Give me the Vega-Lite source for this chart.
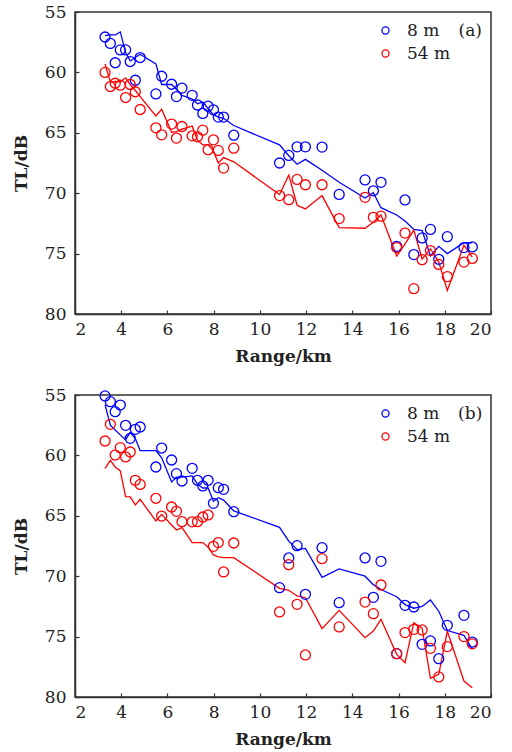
{
  "$schema": "https://vega.github.io/schema/vega-lite/v6.json",
  "padding": {"left": 11, "top": 2, "right": 5, "bottom": 5},
  "config": {
    "font": "DejaVu Serif",
    "view": {"stroke": "#333", "strokeWidth": 1.5},
    "axis": {"grid": false, "domainColor": "#333", "domainWidth": 1.5, "tickColor": "#333", "tickWidth": 1.2, "tickSize": -4, "labelFontSize": 17, "labelColor": "#222", "titleFontSize": 17, "titleFontWeight": "bold", "titleColor": "#222", "labelFont": "DejaVu Serif", "titleFont": "DejaVu Serif"},
    "axisX": {"labelPadding": 11, "titlePadding": 11},
    "axisY": {"labelPadding": 13, "titlePadding": 14},
    "legend": {"orient": "none", "legendX": 302, "legendY": 10, "padding": 0, "symbolSize": 50, "symbolStrokeWidth": 1.3, "labelFontSize": 17, "labelFont": "DejaVu Serif", "labelColor": "#222", "labelOffset": 13, "rowPadding": 5, "title": null, "symbolType": "circle"}
  },
  "datasets": {
    "a": [
      {"r": 3.30, "bm": 57.07, "rm": 60.0, "bc": 56.95, "rc": 59.3},
      {"r": 3.53, "bm": 57.6, "rm": 61.17, "bc": 56.9, "rc": 60.8},
      {"r": 3.74, "bm": 59.2, "rm": 60.9, "bc": 56.9, "rc": 60.75},
      {"r": 3.96, "bm": 58.14, "rm": 61.06, "bc": 56.65, "rc": 60.8},
      {"r": 4.19, "bm": 58.14, "rm": 62.08, "bc": 58.36, "rc": 60.45},
      {"r": 4.39, "bm": 59.1, "rm": 61.0, "bc": 59.05, "rc": 61.0},
      {"r": 4.61, "bm": 60.65, "rm": 61.6, "bc": 58.77, "rc": 61.5},
      {"r": 4.82, "bm": 58.77, "rm": 63.07, "bc": 58.5, "rc": 62.0},
      {"r": 5.50, "bm": 61.78, "rm": 64.59, "bc": 59.3, "rc": 63.6},
      {"r": 5.75, "bm": 60.32, "rm": 65.17, "bc": 61.0, "rc": 63.05},
      {"r": 6.18, "bm": 60.98, "rm": 64.28, "bc": 61.0, "rc": 64.95},
      {"r": 6.39, "bm": 62.0, "rm": 65.44, "bc": 61.4, "rc": 64.9},
      {"r": 6.63, "bm": 61.3, "rm": 64.48, "bc": 61.9, "rc": 64.7},
      {"r": 7.07, "bm": 61.9, "rm": 65.25, "bc": 62.2, "rc": 64.45},
      {"r": 7.30, "bm": 62.7, "rm": 65.33, "bc": 62.6, "rc": 65.6},
      {"r": 7.53, "bm": 63.4, "rm": 64.78, "bc": 62.45, "rc": 66.0},
      {"r": 7.76, "bm": 62.8, "rm": 66.4, "bc": 63.0, "rc": 66.0},
      {"r": 7.99, "bm": 63.1, "rm": 65.58, "bc": 63.5, "rc": 66.5},
      {"r": 8.20, "bm": 63.7, "rm": 66.46, "bc": 63.7, "rc": 67.5},
      {"r": 8.43, "bm": 63.7, "rm": 67.92, "bc": 63.8, "rc": 67.05},
      {"r": 8.87, "bm": 65.2, "rm": 66.27, "bc": 64.4, "rc": 67.4},
      {"r": 10.85, "bm": 67.5, "rm": 70.2, "bc": 66.0, "rc": 70.1},
      {"r": 11.25, "bm": 66.87, "rm": 70.54, "bc": 66.9, "rc": 68.5},
      {"r": 11.61, "bm": 66.16, "rm": 68.86, "bc": 67.6, "rc": 71.0},
      {"r": 11.97, "bm": 66.16, "rm": 69.3, "bc": 67.2, "rc": 71.3},
      {"r": 12.69, "bm": 66.18, "rm": 69.3, "bc": 68.1, "rc": 70.2},
      {"r": 13.43, "bm": 70.1, "rm": 72.1, "bc": 69.1, "rc": 72.85},
      {"r": 14.55, "bm": 68.9, "rm": 70.34, "bc": 70.4, "rc": 72.9},
      {"r": 14.91, "bm": 69.8, "rm": 72.0, "bc": 69.95, "rc": 72.4},
      {"r": 15.24, "bm": 69.1, "rm": 71.9, "bc": 71.2, "rc": 71.8},
      {"r": 15.92, "bm": 74.4, "rm": 74.5, "bc": 71.8, "rc": 75.2},
      {"r": 16.28, "bm": 70.56, "rm": 73.3, "bc": 72.3, "rc": 74.2},
      {"r": 16.66, "bm": 75.08, "rm": 77.9, "bc": 73.0, "rc": 73.05},
      {"r": 17.02, "bm": 73.7, "rm": 75.5, "bc": 73.1, "rc": 75.45},
      {"r": 17.38, "bm": 73.0, "rm": 74.75, "bc": 75.2, "rc": 74.6},
      {"r": 17.74, "bm": 75.47, "rm": 75.9, "bc": 74.4, "rc": 75.7},
      {"r": 18.11, "bm": 73.6, "rm": 76.9, "bc": 75.0, "rc": 78.05},
      {"r": 18.83, "bm": 74.5, "rm": 75.7, "bc": 74.1, "rc": 74.3},
      {"r": 19.19, "bm": 74.45, "rm": 75.4, "bc": 74.1, "rc": 75.3}
    ],
    "b": [
      {"r": 3.30, "bm": 55.08, "rm": 58.81, "bc": 55.8, "rc": 61.07},
      {"r": 3.53, "bm": 55.55, "rm": 57.43, "bc": 57.5, "rc": 60.41},
      {"r": 3.74, "bm": 56.38, "rm": 59.97, "bc": 57.9, "rc": 60.96},
      {"r": 3.96, "bm": 55.83, "rm": 59.36, "bc": 58.3, "rc": 61.29},
      {"r": 4.19, "bm": 57.51, "rm": 60.13, "bc": 58.7, "rc": 63.42},
      {"r": 4.39, "bm": 58.59, "rm": 59.72, "bc": 58.1, "rc": 63.44},
      {"r": 4.61, "bm": 57.84, "rm": 62.06, "bc": 58.6, "rc": 64.1},
      {"r": 4.82, "bm": 57.65, "rm": 62.4, "bc": 59.6, "rc": 63.64},
      {"r": 5.50, "bm": 60.96, "rm": 63.55, "bc": 59.6, "rc": 65.43},
      {"r": 5.75, "bm": 59.39, "rm": 65.02, "bc": 60.2, "rc": 64.88},
      {"r": 6.18, "bm": 60.38, "rm": 64.27, "bc": 62.2, "rc": 65.76},
      {"r": 6.39, "bm": 61.51, "rm": 64.63, "bc": 61.8, "rc": 66.18},
      {"r": 6.63, "bm": 62.12, "rm": 65.49, "bc": 61.8, "rc": 65.98},
      {"r": 7.07, "bm": 61.07, "rm": 65.5, "bc": 61.7, "rc": 67.22},
      {"r": 7.30, "bm": 62.06, "rm": 65.49, "bc": 62.4, "rc": 67.22},
      {"r": 7.53, "bm": 62.53, "rm": 65.1, "bc": 62.7, "rc": 67.22},
      {"r": 7.76, "bm": 62.06, "rm": 64.93, "bc": 62.7, "rc": 67.6},
      {"r": 7.99, "bm": 63.97, "rm": 67.53, "bc": 63.8, "rc": 68.24},
      {"r": 8.20, "bm": 62.67, "rm": 67.22, "bc": 63.5, "rc": 68.4},
      {"r": 8.43, "bm": 62.81, "rm": 69.65, "bc": 63.7, "rc": 68.46},
      {"r": 8.87, "bm": 64.66, "rm": 67.25, "bc": 64.6, "rc": 68.46},
      {"r": 10.85, "bm": 70.95, "rm": 72.96, "bc": 65.95, "rc": 71.0},
      {"r": 11.25, "bm": 68.49, "rm": 69.05, "bc": 67.1, "rc": 71.17},
      {"r": 11.61, "bm": 67.47, "rm": 72.33, "bc": 67.8, "rc": 71.64},
      {"r": 11.97, "bm": 71.5, "rm": 76.52, "bc": 67.7, "rc": 71.78},
      {"r": 12.69, "bm": 67.64, "rm": 68.55, "bc": 70.1, "rc": 74.34},
      {"r": 13.43, "bm": 72.19, "rm": 74.2, "bc": 69.4, "rc": 72.83},
      {"r": 14.55, "bm": 68.49, "rm": 72.14, "bc": 70.0, "rc": 75.09},
      {"r": 14.91, "bm": 71.75, "rm": 73.1, "bc": 70.7, "rc": 74.54},
      {"r": 15.24, "bm": 68.77, "rm": 70.73, "bc": 71.1, "rc": 73.57},
      {"r": 15.92, "bm": 76.41, "rm": 76.41, "bc": 71.7, "rc": 76.47},
      {"r": 16.28, "bm": 72.41, "rm": 74.67, "bc": 72.35, "rc": 77.16},
      {"r": 16.66, "bm": 72.55, "rm": 74.4, "bc": 72.65, "rc": 73.85},
      {"r": 17.02, "bm": 75.64, "rm": 74.45, "bc": 72.5, "rc": 74.3},
      {"r": 17.38, "bm": 75.36, "rm": 75.97, "bc": 71.97, "rc": 78.45},
      {"r": 17.74, "bm": 76.83, "rm": 78.34, "bc": 72.9, "rc": 78.12},
      {"r": 18.11, "bm": 74.07, "rm": 75.83, "bc": 74.5, "rc": 74.54},
      {"r": 18.83, "bm": 73.24, "rm": 75.0, "bc": 74.9, "rc": 78.68},
      {"r": 19.19, "bm": 75.45, "rm": 75.6, "bc": 76.05, "rc": 79.23}
    ]
  },
  "spacing": 20,
  "resolve": {"scale": {"color": "independent"}, "legend": {"color": "independent"}},
  "vconcat": [
    {
      "width": 416, "height": 302,
      "data": {"name": "a"},
      "encoding": {"x": {"field": "r", "type": "quantitative", "scale": {"domain": [2, 20], "nice": false, "zero": false}, "axis": {"values": [2, 4, 6, 8, 10, 12, 14, 16, 18, 20], "title": "Range/km"}}},
      "layer": [
        {"mark": {"type": "line", "color": "#0000ff", "strokeWidth": 1.3}, "encoding": {"y": {"field": "bc", "type": "quantitative", "scale": {"domain": [55, 80], "reverse": true, "nice": false, "zero": false}, "axis": {"values": [55, 60, 65, 70, 75, 80], "title": "TL/dB"}}}},
        {"mark": {"type": "line", "color": "#ff0000", "strokeWidth": 1.3}, "encoding": {"y": {"field": "rc", "type": "quantitative", "scale": {"domain": [55, 80], "reverse": true, "nice": false, "zero": false}, "axis": {"values": [55, 60, 65, 70, 75, 80], "title": "TL/dB"}}}},
        {"mark": {"type": "point", "filled": false, "size": 100, "strokeWidth": 1.3, "opacity": 1}, "encoding": {"y": {"field": "bm", "type": "quantitative", "scale": {"domain": [55, 80], "reverse": true, "nice": false, "zero": false}, "axis": {"values": [55, 60, 65, 70, 75, 80], "title": "TL/dB"}}, "color": {"datum": "8 m", "type": "nominal", "scale": {"domain": ["8 m", "54 m"], "range": ["#0000ff", "#ff0000"]}}}},
        {"mark": {"type": "point", "filled": false, "size": 100, "strokeWidth": 1.3, "opacity": 1}, "encoding": {"y": {"field": "rm", "type": "quantitative", "scale": {"domain": [55, 80], "reverse": true, "nice": false, "zero": false}, "axis": {"values": [55, 60, 65, 70, 75, 80], "title": "TL/dB"}}, "color": {"datum": "54 m", "type": "nominal", "scale": {"domain": ["8 m", "54 m"], "range": ["#0000ff", "#ff0000"]}}}},
        {"transform": [{"filter": "datum.r > 19"}], "mark": {"type": "text", "fontSize": 17, "font": "DejaVu Serif", "fill": "#222", "align": "center", "baseline": "middle"}, "encoding": {"x": {"datum": 19.1, "type": "quantitative"}, "y": {"datum": 56.55, "type": "quantitative"}, "text": {"value": "(a)"}}}
      ]
    },
    {
      "width": 416, "height": 302,
      "data": {"name": "b"},
      "encoding": {"x": {"field": "r", "type": "quantitative", "scale": {"domain": [2, 20], "nice": false, "zero": false}, "axis": {"values": [2, 4, 6, 8, 10, 12, 14, 16, 18, 20], "title": "Range/km"}}},
      "layer": [
        {"mark": {"type": "line", "color": "#0000ff", "strokeWidth": 1.3}, "encoding": {"y": {"field": "bc", "type": "quantitative", "scale": {"domain": [55, 80], "reverse": true, "nice": false, "zero": false}, "axis": {"values": [55, 60, 65, 70, 75, 80], "title": "TL/dB"}}}},
        {"mark": {"type": "line", "color": "#ff0000", "strokeWidth": 1.3}, "encoding": {"y": {"field": "rc", "type": "quantitative", "scale": {"domain": [55, 80], "reverse": true, "nice": false, "zero": false}, "axis": {"values": [55, 60, 65, 70, 75, 80], "title": "TL/dB"}}}},
        {"mark": {"type": "point", "filled": false, "size": 100, "strokeWidth": 1.3, "opacity": 1}, "encoding": {"y": {"field": "bm", "type": "quantitative", "scale": {"domain": [55, 80], "reverse": true, "nice": false, "zero": false}, "axis": {"values": [55, 60, 65, 70, 75, 80], "title": "TL/dB"}}, "color": {"datum": "8 m", "type": "nominal", "scale": {"domain": ["8 m", "54 m"], "range": ["#0000ff", "#ff0000"]}}}},
        {"mark": {"type": "point", "filled": false, "size": 100, "strokeWidth": 1.3, "opacity": 1}, "encoding": {"y": {"field": "rm", "type": "quantitative", "scale": {"domain": [55, 80], "reverse": true, "nice": false, "zero": false}, "axis": {"values": [55, 60, 65, 70, 75, 80], "title": "TL/dB"}}, "color": {"datum": "54 m", "type": "nominal", "scale": {"domain": ["8 m", "54 m"], "range": ["#0000ff", "#ff0000"]}}}},
        {"transform": [{"filter": "datum.r > 19"}], "mark": {"type": "text", "fontSize": 17, "font": "DejaVu Serif", "fill": "#222", "align": "center", "baseline": "middle"}, "encoding": {"x": {"datum": 19.1, "type": "quantitative"}, "y": {"datum": 56.55, "type": "quantitative"}, "text": {"value": "(b)"}}}
      ]
    }
  ]
}
